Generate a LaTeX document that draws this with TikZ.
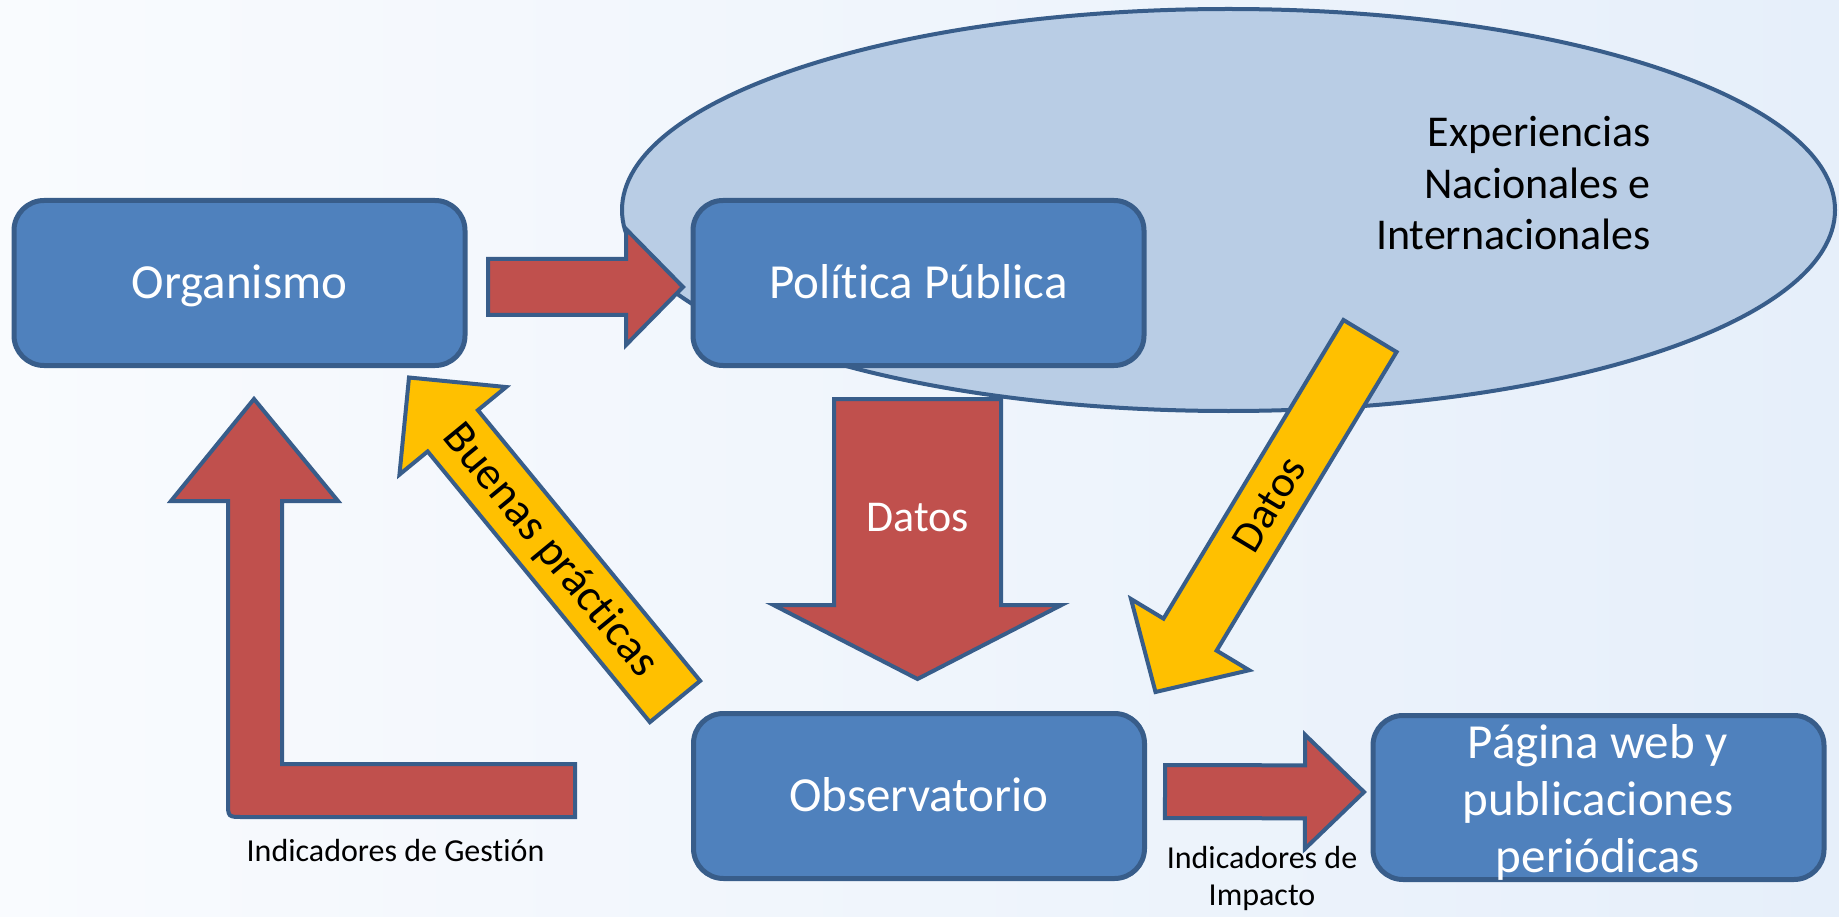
\documentclass[tikz,border=0pt]{standalone}
\usepackage{fontspec}
\setmainfont{Carlito}[Ligatures={NoCommon}]
\usetikzlibrary{calc,shapes.geometric}
\definecolor{boxblue}{RGB}{79,129,189}
\definecolor{edgeblue}{RGB}{56,93,138}
\definecolor{arrred}{RGB}{192,80,77}
\definecolor{arryel}{RGB}{255,192,0}
\definecolor{ellfill}{RGB}{185,205,229}
\definecolor{bgleft}{RGB}{249,251,254}
\definecolor{bgright}{RGB}{230,239,250}
% #1 name, #2 style, #3 tail, #4 tip, #5 shaft half width, #6 head half width, #7 head length
\newcommand{\blockarrow}[7]{%
  \coordinate (#1-b) at ($(#4)!#7!(#3)$);
  \draw[#2] ($(#3)!#5!90:(#4)$) -- ($(#1-b)!#5!90:(#4)$) -- ($(#1-b)!#6!90:(#4)$)
    -- (#4) -- ($(#1-b)!#6!-90:(#4)$) -- ($(#1-b)!#5!-90:(#4)$) -- ($(#3)!#5!-90:(#4)$) -- cycle;
}
\begin{document}
\begin{tikzpicture}[x=1pt,y=-1pt,
  box/.style={draw=edgeblue, line width=5pt, fill=boxblue, rounded corners=30pt,
    minimum width=451pt, minimum height=165pt, text=white, inner sep=0pt,
    text height=31.5pt, text depth=0pt, font=\fontsize{49}{57}\selectfont},
  redarrow/.style={draw=edgeblue, line width=4pt, fill=arrred, line join=miter},
  yelarrow/.style={draw=edgeblue, line width=4pt, fill=arryel, line join=miter},
  bigtxt/.style={inner sep=0pt, font=\fontsize{44}{51.5}\selectfont},
  smalltxt/.style={inner sep=0pt, font=\fontsize{32}{37}\selectfont}]
\useasboundingbox (0,0) rectangle (1839,917);
\shade[left color=bgleft, right color=bgright] (0,0) rectangle (1839,917);

% ellipse
\node[ellipse, draw=edgeblue, line width=4pt, fill=ellfill, minimum width=1213pt,
  minimum height=402pt, inner sep=0pt] (exper) at (1228.5,210) {};
% base anchor of a multi-line node = baseline of its last line
\node[bigtxt, anchor=base east, align=right] (expertxt) at (1651,250)
  {Experiencias\\Nacionales e\\Internacionales};

% Organismo -> Politica
\coordinate (a1t) at (488,287);
\coordinate (a1h) at (683,287);
\blockarrow{a1}{redarrow}{a1t}{a1h}{28pt}{58pt}{57pt}

% boxes
\node[box] (org) at (239.5,283) {Organismo};
\node[box] (pol) at (918.5,283) {Política Pública};
\node[box] (obs) at (919,796) {Observatorio};
\node[box, minimum height=164pt] (pag) at (1598.5,797.5) {};
\node[inner sep=0pt, text=white, align=center, anchor=base, font=\fontsize{49}{57}\selectfont]
  (pagtxt) at (1598,872) {Página web y\\publicaciones\\periódicas};

% Politica -> Observatorio (Datos)
\coordinate (a2t) at (917.5,399);
\coordinate (a2h) at (917.5,679);
\blockarrow{a2}{redarrow}{a2t}{a2h}{83.5pt}{144pt}{74pt}
\node[bigtxt, text=white, anchor=base] (datos1) at (917.5,531) {Datos};

% Experiencias -> Observatorio (Datos)
\coordinate (a3t) at (1370,336);
\coordinate (a3h) at (1155.5,692);
\blockarrow{a3}{yelarrow}{a3t}{a3h}{31pt}{69pt}{67pt}
\node[bigtxt, rotate=58.9] (datos2) at (1269,504) {Datos};

% Observatorio -> Organismo (Buenas practicas)
\coordinate (a4t) at (675,701.5);
\coordinate (a4h) at (409,377.5);
\blockarrow{a4}{yelarrow}{a4t}{a4h}{32.5pt}{69pt}{69pt}
\node[inner sep=0pt, font=\fontsize{46}{52}\selectfont, rotate=-50.6] (buenas) at (550,551) {Buenas prácticas};

% Observatorio -> Pagina web
\coordinate (a5t) at (1165,791.5);
\coordinate (a5h) at (1364,792);
\blockarrow{a5}{redarrow}{a5t}{a5h}{26.5pt}{57pt}{59pt}

% L-shaped arrow (Indicadores de Gestion) up to Organismo
\coordinate (lt) at (254,399);
\draw[redarrow] (lt) -- (338,501) -- (282,501) -- (282,764) -- (575,764) -- (575,817)
  -- (243,817) .. controls (228,817) .. (228,802) -- (228,501) -- (171,501) -- cycle;

% labels
\node[smalltxt, anchor=base] (gestion) at (395.5,861) {Indicadores de Gestión};
\node[smalltxt, anchor=base, align=center] (impacto) at (1262,905) {Indicadores de\\Impacto};
\end{tikzpicture}
\end{document}
